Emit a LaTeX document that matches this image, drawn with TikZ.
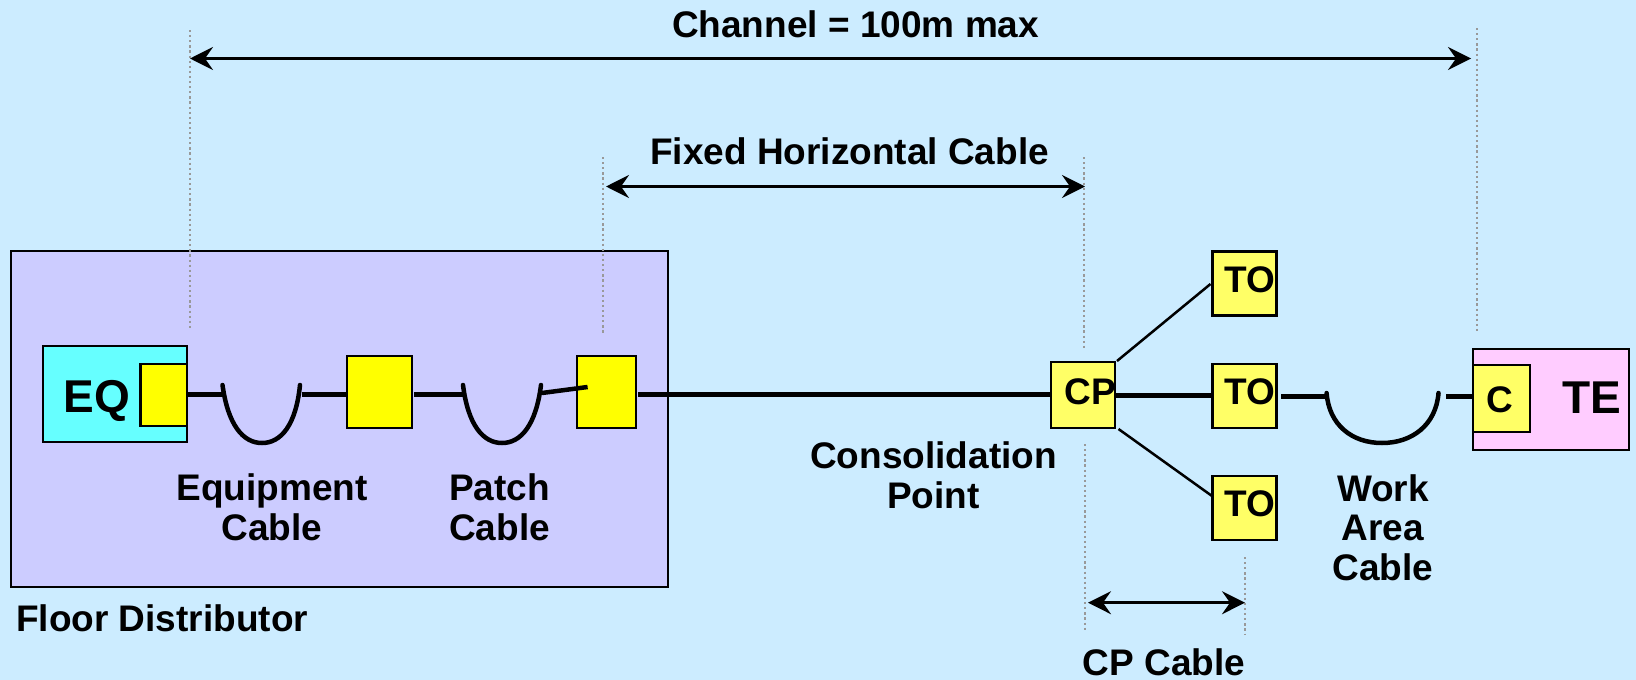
\documentclass[tikz,border=0pt]{standalone}
\usepackage{fontspec}
\setmainfont{Liberation Sans}
\usetikzlibrary{arrows.meta}
\definecolor{bgc}{HTML}{CCECFF}
\definecolor{floorc}{HTML}{CCCCFF}
\definecolor{eqc}{HTML}{66FFFF}
\definecolor{yelc}{HTML}{FFFF00}
\definecolor{paley}{HTML}{FFFF66}
\definecolor{tec}{HTML}{FFCCFF}
\definecolor{dotc}{HTML}{999999}
\tikzset{
  x=1pt,y=-1pt,
  bx/.style 2 args={draw=black,line width=2.6pt,rectangle,inner sep=0pt,minimum width=#1pt,minimum height=#2pt},
  yellowbox/.style 2 args={bx={#1}{#2},fill=yelc},
  palebox/.style 2 args={bx={#1}{#2},fill=paley},
  lbl/.style={font=\fontsize{37}{39.5}\selectfont\bfseries,anchor=base,align=center,inner sep=0pt},
  biglbl/.style={font=\fontsize{46}{50}\selectfont\bfseries,anchor=base,inner sep=0pt},
  guide/.style={draw=dotc,line width=2.2pt,dash pattern=on 2.2pt off 2.9pt},
  cable/.style={line width=5pt},
  loopc/.style={line width=4.5pt,line cap=round},
  thin cable/.style={line width=2.5pt},
  dim/.style={line width=2.8pt,{Stealth[length=23pt,width=23pt,inset=8pt]}-{Stealth[length=23pt,width=23pt,inset=8pt]}},
}
\begin{document}
\begin{tikzpicture}
\path[fill=bgc] (0,0) rectangle (1636,680);
\useasboundingbox (0,0) rectangle (1636,680);
% containers
\node[bx={657}{336},fill=floorc] (floor) at (339.5,418.8) {};
\node[bx={144}{96},fill=eqc] (eq) at (115,394) {};
\node[yellowbox={46.5}{62}] (eqport) at (163.7,395) {};
\node[yellowbox={65}{72}] (pa) at (379.5,392) {};
\node[yellowbox={59}{72}] (pb) at (606.5,392) {};
\node[palebox={64}{66}] (cp) at (1083,395) {};
\node[palebox={64}{64}] (to1) at (1244.7,283.7) {};
\node[palebox={64}{64}] (to2) at (1244.7,395.8) {};
\node[palebox={64}{64}] (to3) at (1244.7,507.8) {};
\node[bx={156}{101},fill=tec] (te) at (1551,399.5) {};
\node[palebox={57}{67}] (tec) at (1501.5,398.5) {};
% guide coordinates
\coordinate (g1a) at (189.7,30); \coordinate (g1b) at (189.7,328);
\coordinate (g2a) at (603,157); \coordinate (g2b) at (603,333);
\coordinate (g3a) at (1084,157); \coordinate (g3b) at (1084,349);
\coordinate (g4a) at (1085,444); \coordinate (g4b) at (1085,630);
\coordinate (g5a) at (1245,557); \coordinate (g5b) at (1245,635);
\coordinate (g6a) at (1476.7,28); \coordinate (g6b) at (1476.7,332);
\draw[guide] (g1a) -- (g1b);
\draw[guide] (g2a) -- (g2b);
\draw[guide] (g3a) -- (g3b);
\draw[guide] (g4a) -- (g4b);
\draw[guide] (g5a) -- (g5b);
\draw[guide] (g6a) -- (g6b);
% dimension arrows
\coordinate (c1) at (190,58.5); \coordinate (c2) at (1471,58.5);
\coordinate (f1) at (606,186.5); \coordinate (f2) at (1085,186.5);
\coordinate (k1) at (1088,602.7); \coordinate (k2) at (1245,602.7);
\draw[dim] (c1) -- (c2);
\draw[dim] (f1) -- (f2);
\draw[dim] (k1) -- (k2);
% cable ends
\coordinate (l1a) at (222.5,385); \coordinate (l1b) at (262,443); \coordinate (l1c) at (300,385);
\coordinate (l2a) at (463,385); \coordinate (l2b) at (502,443); \coordinate (l2c) at (541,385);
\coordinate (l3a) at (1326.6,393); \coordinate (l3b) at (1382,443); \coordinate (l3c) at (1438.5,393);
% cables
\draw[cable] (eqport.east |- 0,394.3) -- (222.5,394.3);
\draw[loopc] (l1a) .. controls (228,425) and (243,443) .. (l1b) .. controls (281,443) and (296,425) .. (l1c);
\draw[cable] (302,394.3) -- (pa.west |- 0,394.3);
\draw[cable] (414,394.3) -- (463,394.3);
\draw[loopc] (l2a) .. controls (468,425) and (483,443) .. (l2b) .. controls (521,443) and (536,425) .. (l2c);
\draw[line width=4.5pt] (542,393) -- (587.6,387);
\draw[cable] (638,394.5) -- (cp.west |- 0,394.5);
\draw[cable] (cp.east |- 0,395) -- (to2.west |- 0,395);
\draw[thin cable] (1117,361) -- (1210.5,284);
\draw[thin cable] (1118.5,429) -- (1212,496);
\draw[cable] (1281,396) -- (1327,396);
\draw[loopc] (l3a) .. controls (1329,425) and (1352,443) .. (l3b) .. controls (1412,443) and (1436,425) .. (l3c);
\draw[cable] (1446,396) -- (tec.west |- 0,396);
% labels
\node[lbl] (tchannel) at (855.6,37.5) {Channel = 100m max};
\node[lbl] (tfixed) at (849.6,164) {Fixed Horizontal Cable};
\node[lbl] (tequip) at (272,540) {Equipment\\Cable};
\node[lbl] (tpatch) at (499.6,540) {Patch\\Cable};
\node[lbl,anchor=base west] (tfloor) at (16,631) {Floor Distributor};
\node[lbl] (tcons) at (933.5,508) {Consolidation\\Point};
\node[lbl] (twork) at (1383,580) {Work\\Area\\Cable};
\node[lbl] (tcpc) at (1164,675.5) {CP Cable};
\node[biglbl] (teq) at (96.7,412.7) {EQ};
\node[biglbl] (tte) at (1591.5,413) {TE};
\node[lbl] (tc) at (1500,412) {C};
\node[lbl] (tcp) at (1090,404.7) {CP};
\node[lbl] (tto1) at (1250,292.7) {TO};
\node[lbl] (tto2) at (1250,404.7) {TO};
\node[lbl] (tto3) at (1250,516.7) {TO};
\end{tikzpicture}
\end{document}
